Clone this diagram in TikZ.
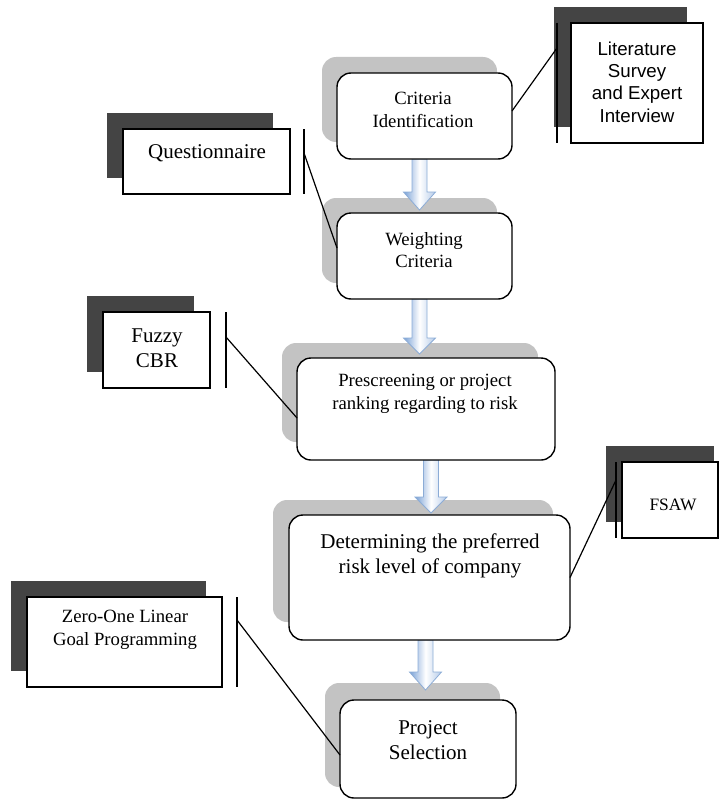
\documentclass[tikz,border=0pt]{standalone}
\usepackage{fontspec}
\setmainfont{Liberation Serif}
\newfontfamily\arialf{Liberation Sans}
\definecolor{lshade}{RGB}{195,195,195}
\definecolor{dshade}{RGB}{68,68,68}
\definecolor{arrblue}{RGB}{120,160,214}
\definecolor{arredge}{RGB}{140,172,214}
\tikzset{
  mainbox/.style={draw, line width=1.4pt, rounded corners=14pt, fill=white, inner sep=0pt, outer sep=0pt},
  lshadow/.style={fill=lshade, rounded corners=14pt, inner sep=0pt, outer sep=0pt},
  sidebox/.style={draw, line width=1.4pt, fill=white, inner sep=0pt, outer sep=0pt},
  dshadow/.style={fill=dshade, inner sep=0pt, outer sep=0pt},
  smalltxt/.style={align=center, font=\fontsize{18.7}{22.5}\selectfont},
  bigtxt/.style={align=center, font=\fontsize{21}{25}\selectfont},
  vbar/.style={line width=1.2pt},
  conn/.style={line width=1.2pt},
  flowarrow/.style={draw=arredge, line width=0.8pt, left color=arrblue, right color=arrblue!55, middle color=white}
}
\newcommand\myflowarrow[4]{%
  \path[flowarrow] (#1-7.5,#2) -- (#1+7.5,#2) -- (#1+7.5,#3) -- (#1+16,#3) -- (#1,#4) -- (#1-16,#3) -- (#1-7.5,#3) -- cycle;}
\begin{document}
\begin{tikzpicture}[x=1pt,y=-1pt]
\useasboundingbox (0,0) rectangle (719,800);
% light shadows of main boxes
\node[lshadow, minimum width=175pt, minimum height=85pt] (critS) at (409.5,99.5) {};
\node[lshadow, minimum width=175pt, minimum height=85pt] (weightS) at (409.5,240.5) {};
\node[lshadow, minimum width=256pt, minimum height=99pt] (preS) at (410,392.5) {};
\node[lshadow, minimum width=280pt, minimum height=122pt] (detS) at (413,561) {};
\node[lshadow, minimum width=175pt, minimum height=104pt] (projS) at (412.5,735) {};
% arrows
\myflowarrow{419.5}{159}{192}{210}
\myflowarrow{419.5}{299}{338}{354}
\myflowarrow{431}{460}{497}{513}
\myflowarrow{425.5}{640}{672}{690}
% main boxes
\node[mainbox, minimum width=175pt, minimum height=86pt] (crit) at (424.5,116) {};
\node[mainbox, minimum width=175pt, minimum height=86pt] (weight) at (424.5,256) {};
\node[mainbox, minimum width=258pt, minimum height=102pt] (pre) at (426,409) {};
\node[mainbox, minimum width=281pt, minimum height=125pt] (det) at (429.5,577.5) {};
\node[mainbox, minimum width=176pt, minimum height=98pt] (proj) at (428,749) {};
% main texts
\node[smalltxt] (critT) at (423,110) {Criteria\\Identification};
\node[smalltxt] (weightT) at (424,250) {Weighting\\Criteria};
\node[smalltxt] (preT) at (425,394) {Prescreening or project\\ranking regarding to risk};
\node[bigtxt] (detT) at (430,556) {Determining the preferred\\risk level of company};
\node[bigtxt] (projT) at (428,740) {Project\\Selection};
% side boxes: shadows
\node[dshadow, minimum width=133pt, minimum height=120pt] (litS) at (620.5,67) {};
\node[dshadow, minimum width=166pt, minimum height=65pt] (questS) at (190,145.5) {};
\node[dshadow, minimum width=107pt, minimum height=76pt] (fuzzyS) at (140.5,334) {};
\node[dshadow, minimum width=108pt, minimum height=76pt] (fsawS) at (660,484) {};
\node[dshadow, minimum width=195pt, minimum height=90pt] (zeroS) at (108.5,626) {};
% side boxes
\node[sidebox, minimum width=132pt, minimum height=120pt] (lit) at (637,83) {};
\node[sidebox, minimum width=167pt, minimum height=65pt] (quest) at (206.5,161.5) {};
\node[sidebox, minimum width=107pt, minimum height=76pt] (fuzzy) at (156.5,350) {};
\node[sidebox, minimum width=96pt, minimum height=76pt] (fsaw) at (670,500) {};
\node[sidebox, minimum width=195pt, minimum height=90pt] (zero) at (124.5,642) {};
% side texts
\node[align=center, font=\arialf\fontsize{18.7}{22.3}\selectfont] (litT) at (637,82) {Literature\\Survey\\and Expert\\Interview};
\node[bigtxt] (questT) at (207,153) {Questionnaire};
\node[bigtxt] (fuzzyT) at (157,348) {Fuzzy\\CBR};
\node[smalltxt, font=\fontsize{17.4}{21}\selectfont] (fsawT) at (673,505) {FSAW};
\node[smalltxt] (zeroT) at (125,630) {Zero-One Linear\\Goal Programming};
% vertical bars and their attachment points
\coordinate (litA) at (557,23); \coordinate (litB) at (557,143); \coordinate (litC) at (557,48);
\coordinate (questA) at (304,129); \coordinate (questB) at (304,194); \coordinate (questC) at (304,153);
\coordinate (fuzzyA) at (226,312); \coordinate (fuzzyB) at (226,388); \coordinate (fuzzyC) at (226,337);
\coordinate (fsawA) at (616,462); \coordinate (fsawB) at (616,538); \coordinate (fsawC) at (616,480);
\coordinate (zeroA) at (237,597); \coordinate (zeroB) at (237,687); \coordinate (zeroC) at (237,620);
\draw[vbar] (litA) -- (litB);
\draw[vbar] (questA) -- (questB);
\draw[vbar] (fuzzyA) -- (fuzzyB);
\draw[vbar] (fsawA) -- (fsawB);
\draw[vbar] (zeroA) -- (zeroB);
% connectors
\draw[conn] (litC) -- ([yshift=5pt]crit.east);
\draw[conn] (questC) -- ([yshift=8pt]weight.west);
\draw[conn] (fuzzyC) -- ([yshift=-9pt]pre.west);
\draw[conn] (fsawC) -- (det.east);
\draw[conn] (zeroC) -- ([yshift=-6pt]proj.west);
\end{tikzpicture}
\end{document}
